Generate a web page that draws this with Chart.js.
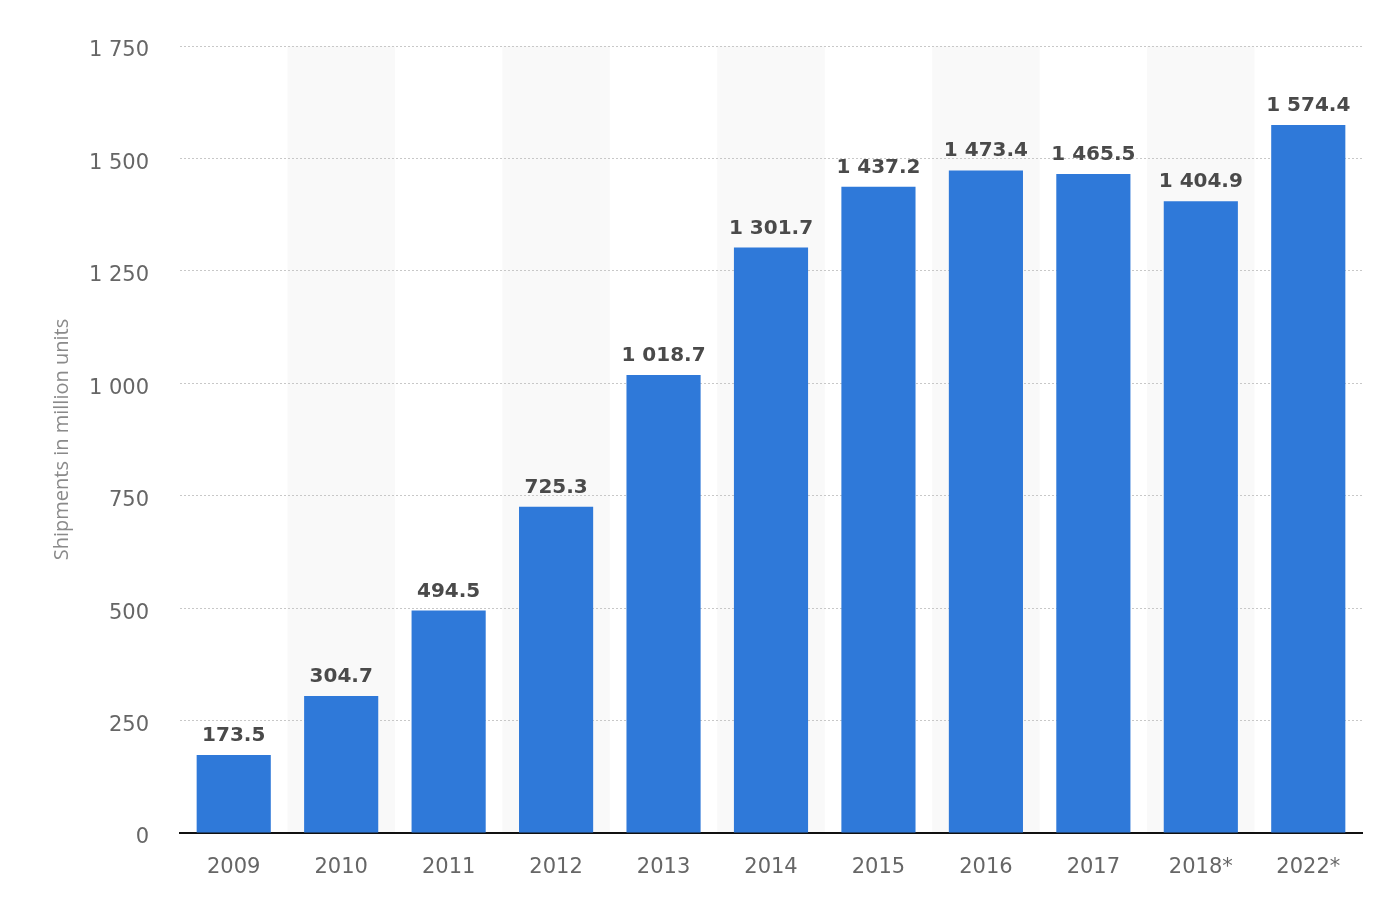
<!DOCTYPE html>
<html lang="en">
<head>
    <meta charset="UTF-8">
    <title>Shipments in million units</title>
    <script src="https://cdn.jsdelivr.net/npm/chart.js"></script>
    <style>
        html, body { margin: 0; padding: 0; background: #fff; }
        #wrap { width: 1384px; height: 914px; }
    </style>
</head>
<body>
    <div id="wrap"><canvas id="myChart" width="1384" height="914"></canvas></div>
    <script>
        // Datos del gráfico
        const years = ['2009', '2010', '2011', '2012', '2013', '2014', '2015', '2016', '2017', '2018*', '2022*'];
        const shipments = [173.5, 304.7, 494.5, 725.3, 1018.7, 1301.7, 1437.2, 1473.4, 1465.5, 1404.9, 1574.4];
        const yTicks = [0, 250, 500, 750, 1000, 1250, 1500, 1750];
        const axisTitle = 'Shipments in million units';

        // formato con espacio como separador de miles
        function fmt(v, dec) {
            const parts = v.toFixed(dec).split('.');
            parts[0] = parts[0].replace(/\B(?=(\d{3})+(?!\d))/g, ' ');
            return parts.join('.');
        }

        // bandas grises alternas, debajo de la cuadrícula
        const bandsPlugin = {
            id: 'bands',
            beforeDraw(chart) {
                const { ctx, chartArea, scales } = chart;
                const x = scales.x;
                const w = x.width / years.length;
                ctx.save();
                ctx.fillStyle = '#f9f9f9';
                years.forEach((y, i) => {
                    if (i % 2 === 1) {
                        const cx = x.getPixelForValue(i);
                        ctx.fillRect(cx - w / 2, chartArea.top, w, chartArea.bottom - chartArea.top);
                    }
                });
                ctx.restore();
            }
        };

        // etiquetas de valor encima de cada barra
        const valueLabels = {
            id: 'valueLabels',
            afterDatasetsDraw(chart) {
                const { ctx } = chart;
                const meta = chart.getDatasetMeta(0);
                ctx.save();
                ctx.font = 'bold 20px "DejaVu Sans"';
                ctx.fillStyle = '#4a4a4a';
                ctx.textAlign = 'center';
                ctx.textBaseline = 'alphabetic';
                meta.data.forEach((bar, i) => {
                    ctx.fillText(fmt(shipments[i], 1), bar.x, bar.y - 14);
                });
                ctx.restore();
            }
        };

        const ctx = document.getElementById('myChart').getContext('2d');
        new Chart(ctx, {
            type: 'bar',
            data: {
                labels: years,
                datasets: [{
                    data: shipments,
                    backgroundColor: '#2f79d9',
                    borderWidth: 0,
                    barPercentage: 0.69,
                    categoryPercentage: 1.0
                }]
            },
            options: {
                responsive: false,
                animation: false,
                layout: { padding: { left: 48, right: 22, top: 46, bottom: 0 } },
                plugins: {
                    legend: { display: false },
                    tooltip: { enabled: false }
                },
                scales: {
                    x: {
                        grid: { display: false, drawTicks: false },
                        border: { display: true, color: '#111111', width: 2 },
                        ticks: {
                            color: '#666666',
                            font: { family: 'DejaVu Sans', size: 21 },
                            padding: 22
                        },
                        afterFit(scale) { scale.height = 81; }
                    },
                    y: {
                        min: 0,
                        max: 1750,
                        afterBuildTicks(scale) {
                            scale.ticks = yTicks.map(v => ({ value: v }));
                        },
                        grid: {
                            color: '#c8c8c8',
                            lineWidth: 1,
                            drawTicks: false
                        },
                        border: { display: false, dash: [2, 2] },
                        ticks: {
                            color: '#666666',
                            font: { family: 'DejaVu Sans', size: 21 },
                            padding: 31,
                            labelOffset: 5,
                            callback: v => fmt(v, 0)
                        },
                        title: {
                            display: true,
                            text: axisTitle,
                            color: '#8a8a8a',
                            font: { family: 'Open Sans', size: 20 },
                            padding: { top: 2, bottom: 4 }
                        },
                        afterFit(scale) { scale.width = 132; }
                    }
                }
            },
            plugins: [bandsPlugin, valueLabels]
        });
    </script>
</body>
</html>
